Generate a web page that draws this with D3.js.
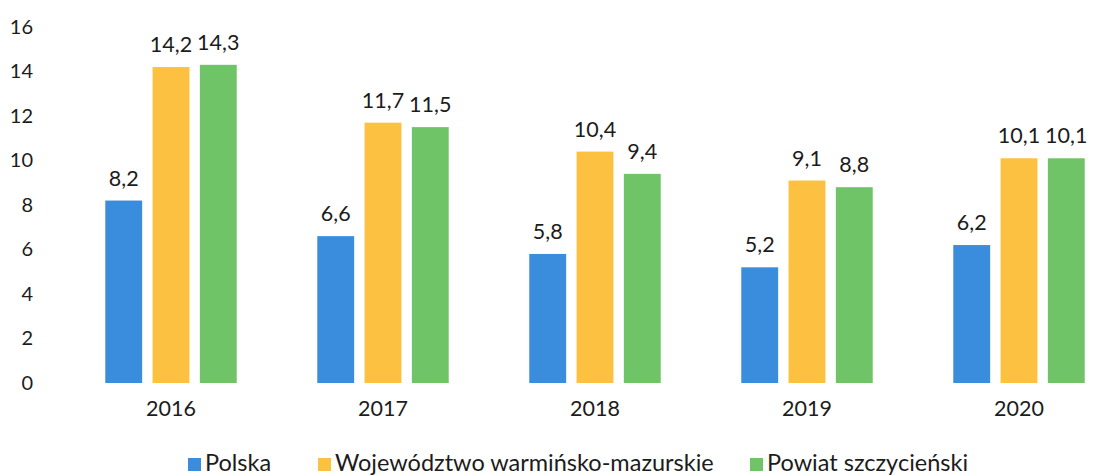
<!DOCTYPE html>
<html><head><meta charset="utf-8">
<script src="https://cdn.jsdelivr.net/npm/d3@7"></script>
<style>body{margin:0;background:#fff}svg{display:block}</style>
</head><body>
<svg id="c" width="1107" height="476"></svg>
<script>
const years = ["2016","2017","2018","2019","2020"];
const seriesNames = ["Polska","Województwo warmińsko-mazurskie","Powiat szczycieński"];
const polska = [8.2, 6.6, 5.8, 5.2, 6.2];
const wojewodztwo = [14.2, 11.7, 10.4, 9.1, 10.1];
const powiat = [14.3, 11.5, 9.4, 8.8, 10.1];
const yTicks = [0,2,4,6,8,10,12,14,16];
const colors = ["#3a8ddc","#fcc140","#6fc468"];

const values = [polska, wojewodztwo, powiat];
const svg = d3.select("#c");
const font = "Lato, 'Liberation Sans', sans-serif";
const txt = "#1c1c1c";
const y = d3.scaleLinear().domain([0,16]).range([383,27]);
const x0 = d3.scaleBand().domain(years).range([65,1125]).paddingInner(0.38).paddingOuter(0.19);
const x1 = d3.scaleBand().domain(d3.range(3)).range([0,x0.bandwidth()]).paddingInner(0.22);

const yAxis = d3.axisLeft(y).tickValues(yTicks).tickSize(0).tickPadding(0);
const ga = svg.append("g").attr("transform","translate(33,0)").call(yAxis);
ga.select(".domain").remove();
ga.selectAll("text").attr("font-family",font).attr("font-size",20).attr("fill",txt);

const xAxis = d3.axisBottom(x0).tickSize(0).tickPadding(0);
const gx = svg.append("g").attr("transform","translate(0,401)").call(xAxis);
gx.select(".domain").remove();
gx.selectAll("text").attr("font-family",font).attr("font-size",21.5).attr("fill",txt);

const fmt = v => String(v.toFixed(1)).replace(".", ",");
years.forEach((yr,i)=>{
  const g = svg.append("g").attr("transform",`translate(${x0(yr)},0)`);
  values.forEach((s,j)=>{
    g.append("rect").attr("x",x1(j)).attr("width",x1.bandwidth())
      .attr("y",y(s[i])).attr("height",y(0)-y(s[i])).attr("fill",colors[j]);
    g.append("text").attr("x",x1(j)+x1.bandwidth()/2).attr("y",y(s[i])-15)
      .attr("text-anchor","middle").attr("font-family",font).attr("font-size",21.5)
      .attr("fill",txt).text(fmt(s[i]));
  });
});

const legendX = [188,318,750];
seriesNames.forEach((n,j)=>{
  svg.append("rect").attr("x",legendX[j]).attr("y",458).attr("width",13).attr("height",13).attr("fill",colors[j]);
  svg.append("text").attr("x",legendX[j]+17).attr("y",471).attr("font-family",font)
    .attr("font-size",23.5).attr("fill",txt).text(n);
});
</script>
</body></html>
